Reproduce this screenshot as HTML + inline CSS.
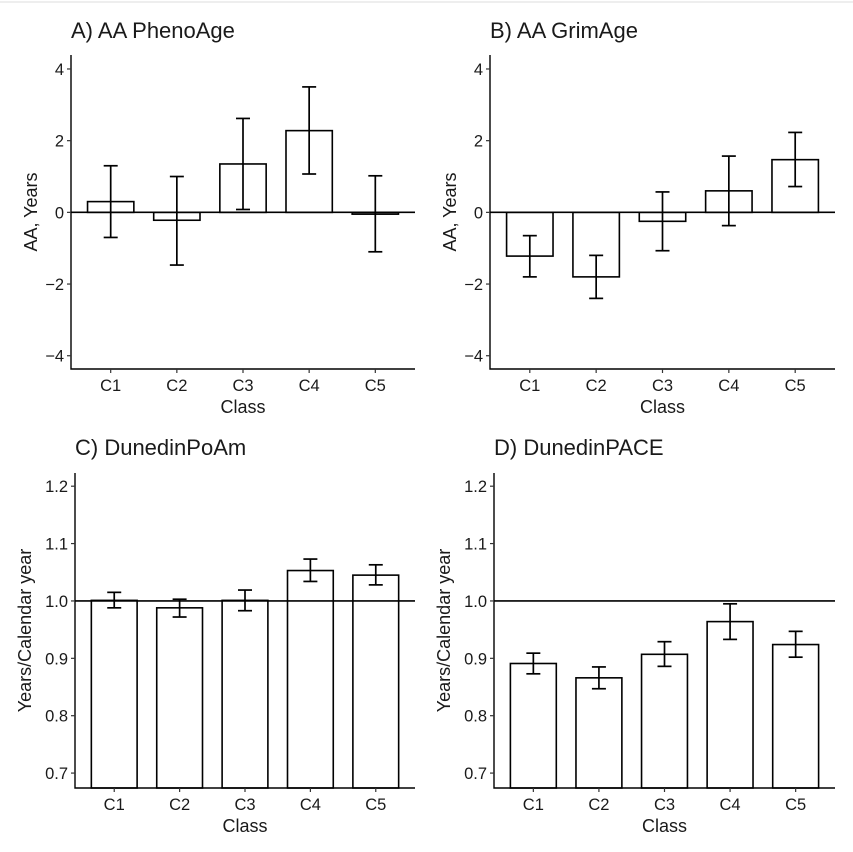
<!DOCTYPE html>
<html><head><meta charset="utf-8"><style>
body{margin:0;background:#fff;width:853px;height:847px;overflow:hidden}
svg text{font-family:"Liberation Sans",sans-serif;fill:#1a1a1a}
</style></head><body>
<svg id="fig" width="853" height="847" xmlns="http://www.w3.org/2000/svg">
<line x1="0" y1="2" x2="853" y2="2" stroke="#ddd" stroke-width="1"/>
</svg>
<script>
const categories = ["C1","C2","C3","C4","C5"];
const aMean = [0.3,-0.22,1.35,2.28,-0.05];
const aLow = [-0.7,-1.47,0.08,1.07,-1.1];
const aHigh = [1.3,1.0,2.62,3.5,1.02];
const bMean = [-1.22,-1.8,-0.25,0.6,1.47];
const bLow = [-1.8,-2.4,-1.07,-0.37,0.72];
const bHigh = [-0.65,-1.2,0.57,1.57,2.23];
const cMean = [1.001,0.988,1.001,1.053,1.045];
const cLow = [0.988,0.972,0.983,1.034,1.028];
const cHigh = [1.015,1.003,1.019,1.073,1.063];
const dMean = [0.891,0.866,0.907,0.964,0.924];
const dLow = [0.873,0.847,0.886,0.933,0.902];
const dHigh = [0.909,0.885,0.929,0.995,0.947];
const aaTicks = [4,2,0,-2,-4];
const aaTickLabels = ["4","2","0","\u22122","\u22124"];
const paceTicks = [1.2,1.1,1.0,0.9,0.8,0.7];
const paceTickLabels = ["1.2","1.1","1.0","0.9","0.8","0.7"];

const svg = document.getElementById('fig');
const NS = "http://www.w3.org/2000/svg";
function mk(tag, attrs, parent){
  const e = document.createElementNS(NS, tag);
  for (const k in attrs) e.setAttribute(k, attrs[k]);
  (parent||svg).appendChild(e);
  return e;
}
function panel(o){
  const g = mk('g', {});
  
  
  const y = v => o.y0 + (o.vmax - v) / (o.vmax - o.vmin) * (o.y1 - o.y0);
  const step = (o.x1 - o.x0) / 5.2;
  const xc = i => o.x0 + step * (i + 0.6);
  const bw = step * 0.7;
  const base = o.ref;
  o.mean.forEach((m, i) => {
    const top = o.fromBottom ? y(m) : Math.min(y(m), y(base));
    const bot = o.fromBottom ? o.y1 : Math.max(y(m), y(base));
    const r = mk('rect', {x: xc(i) - bw/2, y: top, width: bw, height: Math.max(bot - top, 1), fill: '#fff', stroke: '#000', 'stroke-width': 1.6}, g);
    
    
  });
  const rl = mk('line', {x1: o.x0, x2: o.x1, y1: y(base), y2: y(base), stroke: '#000', 'stroke-width': 1.6}, g);
  
  
  o.mean.forEach((m, i) => {
    const eg = mk('g', {stroke: '#000', 'stroke-width': 1.7}, g);
    
    
    const c = xc(i), w = 7;
    mk('line', {x1: c, x2: c, y1: y(o.low[i]), y2: y(o.high[i])}, eg);
    mk('line', {x1: c - w, x2: c + w, y1: y(o.low[i]), y2: y(o.low[i])}, eg);
    mk('line', {x1: c - w, x2: c + w, y1: y(o.high[i]), y2: y(o.high[i])}, eg);
  });
  const ax = mk('path', {d: `M${o.x0},${o.y0} V${o.y1} H${o.x1}`, fill: 'none', stroke: '#000', 'stroke-width': 1.4}, g);
  
  
  o.ticks.forEach((t, i) => {
    mk('line', {x1: o.x0 - 4, x2: o.x0, y1: y(t), y2: y(t), stroke: '#333', 'stroke-width': 1.2}, g);
    const tl = mk('text', {x: o.x0 - 7, y: y(t) + 6, 'text-anchor': 'end', 'font-size': 16.5, fill: '#333'}, g);
    tl.textContent = o.tickLabels[i];
    
    
  });
  categories.forEach((c, i) => {
    mk('line', {x1: xc(i), x2: xc(i), y1: o.y1, y2: o.y1 + 4, stroke: '#333', 'stroke-width': 1.2}, g);
    const tl = mk('text', {x: xc(i), y: o.y1 + 22, 'text-anchor': 'middle', 'font-size': 16.5, fill: '#333'}, g);
    tl.textContent = c;
    
    
  });
  const xt = mk('text', {x: (o.x0 + o.x1) / 2, y: o.y1 + 44, 'text-anchor': 'middle', 'font-size': 18}, g);
  xt.textContent = 'Class';
  
  
  const ym = (o.y0 + o.y1) / 2;
  const yt = mk('text', {x: o.ytx, y: ym, 'text-anchor': 'middle', 'font-size': 18, transform: `rotate(-90 ${o.ytx} ${ym})`}, g);
  yt.textContent = o.ytitle;
  
  
  const ti = mk('text', {x: o.tx, y: o.ty, 'font-size': 22}, g);
  ti.textContent = o.title;
  
  
}
panel({name:'panel-a-phenoage', title:'A) AA PhenoAge', tx:71, ty:38, x0:71, x1:415, y0:55, y1:369, vmin:-4.37, vmax:4.39, ref:0,
  mean:aMean, low:aLow, high:aHigh, ticks:aaTicks, tickLabels:aaTickLabels, ytitle:'AA, Years', ytx:37});
panel({name:'panel-b-grimage', title:'B) AA GrimAge', tx:490, ty:38, x0:490, x1:835, y0:55, y1:369, vmin:-4.37, vmax:4.39, ref:0,
  mean:bMean, low:bLow, high:bHigh, ticks:aaTicks, tickLabels:aaTickLabels, ytitle:'AA, Years', ytx:456});
panel({name:'panel-c-dunedinpoam', title:'C) DunedinPoAm', tx:75, ty:455, x0:75, x1:415, y0:473, y1:788, vmin:0.674, vmax:1.223, ref:1.0, fromBottom:true,
  mean:cMean, low:cLow, high:cHigh, ticks:paceTicks, tickLabels:paceTickLabels, ytitle:'Years/Calendar year', ytx:31});
panel({name:'panel-d-dunedinpace', title:'D) DunedinPACE', tx:494, ty:455, x0:494, x1:835, y0:473, y1:788, vmin:0.674, vmax:1.223, ref:1.0, fromBottom:true,
  mean:dMean, low:dLow, high:dHigh, ticks:paceTicks, tickLabels:paceTickLabels, ytitle:'Years/Calendar year', ytx:450});
</script>
</body></html>
